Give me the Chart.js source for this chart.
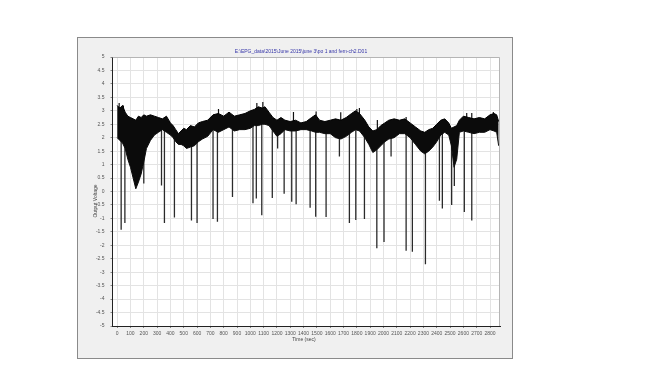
<!DOCTYPE html>
<html>
<head>
<meta charset="utf-8">
<script src="https://cdn.jsdelivr.net/npm/chart.js@4"></script>
<style>
  body { margin: 0; background: #fff; width: 650px; height: 366px; position: relative; }
  #panel { position: absolute; left: 77px; top: 37px; width: 434px; height: 320px;
           background: #f0f0f0; border: 1px solid #8a8a8a; }
  #epg { display: block; }
</style>
</head>
<body>
<div id="panel"><canvas id="epg" width="434" height="320"></canvas></div>
<script>
// recording envelope (dense signal)
const envTime = [0, 20, 40, 60, 80, 100, 120, 140, 160, 180, 200, 220, 250, 280, 310, 340, 370, 400, 420, 440,
  460, 480, 500, 520, 550, 580, 610, 640, 680, 720, 760, 800, 840, 880, 920, 960, 1000, 1030, 1060, 1090,
  1110, 1140, 1170, 1200, 1230, 1260, 1300, 1340, 1380, 1420, 1460, 1490, 1520, 1560, 1600, 1640, 1680, 1720, 1760, 1790,
  1820, 1860, 1890, 1920, 1950, 1980, 2010, 2040, 2080, 2120, 2160, 2200, 2240, 2280, 2310, 2340, 2370, 2400, 2430, 2460,
  2490, 2510, 2530, 2550, 2570, 2600, 2640, 2680, 2720, 2760, 2800, 2830, 2850, 2865];
const envHigh = [3.2, 3.1, 3.2, 2.95, 2.8, 2.75, 2.7, 2.65, 2.8, 2.75, 2.85, 2.8, 2.85, 2.8, 2.75, 2.7, 2.8, 2.55, 2.45, 2.3,
  2.15, 2.25, 2.35, 2.3, 2.45, 2.4, 2.55, 2.6, 2.65, 2.85, 2.9, 2.8, 2.95, 2.8, 2.85, 2.9, 3.0, 3.05, 3.15, 3.1,
  3.15, 2.95, 2.75, 2.65, 2.75, 2.65, 2.6, 2.65, 2.55, 2.6, 2.75, 2.85, 2.65, 2.6, 2.65, 2.7, 2.65, 2.75, 2.9, 3.0,
  2.9, 2.65, 2.4, 2.25, 2.3, 2.45, 2.55, 2.65, 2.7, 2.65, 2.7, 2.55, 2.4, 2.25, 2.2, 2.3, 2.35, 2.5, 2.65, 2.7,
  2.55, 2.35, 2.4, 2.45, 2.65, 2.8, 2.75, 2.7, 2.75, 2.7, 2.85, 2.9, 2.85, 2.6];
const envLow = [2.0, 1.9, 1.8, 1.6, 1.2, 0.9, 0.5, 0.1, 0.35, 0.65, 1.1, 1.6, 1.9, 2.1, 2.2, 2.3, 2.2, 2.1, 2.0, 1.85,
  1.75, 1.75, 1.7, 1.6, 1.65, 1.7, 1.85, 1.95, 2.05, 2.3, 2.2, 2.3, 2.4, 2.25, 2.3, 2.3, 2.35, 2.45, 2.45, 2.5,
  2.5, 2.45, 2.25, 2.05, 2.15, 2.3, 2.25, 2.25, 2.3, 2.3, 2.25, 2.2, 2.2, 2.15, 2.15, 2.0, 1.95, 2.05, 2.2, 2.3,
  2.25, 2.0, 1.75, 1.45, 1.55, 1.7, 1.85, 1.95, 2.0, 2.15, 2.15, 2.0, 1.75, 1.5, 1.4, 1.5, 1.65, 1.85, 2.1, 2.2,
  2.1, 1.7, 0.9, 1.2, 2.2, 2.25, 2.2, 2.15, 2.2, 2.2, 2.3, 2.25, 2.2, 1.7];

// downward spikes: time, level where they leave the trace, lowest voltage
const spikeTime = [30, 58, 200, 333, 355, 430, 558, 600, 720, 753, 866, 1020, 1045, 1086, 1165, 1205, 1254, 1311, 1344,
  1449, 1491, 1569, 1669, 1744, 1792, 1857, 1950, 2004, 2057, 2170, 2217, 2315, 2420, 2442, 2512, 2532, 2607, 2663];
const spikeBase = [2.2, 2.0, 1.5, 2.4, 2.4, 2.2, 2.0, 2.0, 2.5, 2.5, 2.5, 2.6, 2.7, 2.7, 2.5, 2.3, 2.5, 2.4, 2.4,
  2.5, 2.5, 2.4, 2.2, 2.4, 2.5, 2.3, 1.9, 2.1, 2.2, 2.3, 2.1, 1.8, 2.2, 2.3, 2.0, 1.5, 2.4, 2.4];
const spikeMin = [-1.42, -1.17, 0.3, 0.22, -1.17, -0.97, -1.08, -1.17, -1.02, -1.12, -0.2, -0.44, -0.26, -0.88, -0.24, 1.6, -0.08, -0.38, -0.47,
  -0.6, -0.94, -0.95, 1.3, -1.17, -1.06, -1.02, -2.11, -1.88, 1.3, -2.2, -2.24, -2.7, -0.34, -0.63, -0.5, 0.2, -0.76, -1.08];

// short upward peaks on top of the trace
const peakTime = [15, 47, 761, 1049, 1094, 1324, 1494, 1679, 1762, 1800, 1819, 1954, 2170, 2625, 2663, 2825];
const peakBase = [2.8, 2.8, 2.6, 2.8, 2.8, 2.4, 2.5, 2.4, 2.5, 2.6, 2.6, 2.1, 2.4, 2.5, 2.4, 2.6];
const peakMax = [3.29, 3.2, 3.07, 3.29, 3.33, 2.96, 2.97, 2.95, 2.84, 3.07, 3.1, 2.66, 2.77, 2.92, 2.92, 2.96];

const xTicks = [0, 100, 200, 300, 400, 500, 600, 700, 800, 900, 1000, 1100, 1200, 1300, 1400, 1500, 1600, 1700, 1800,
  1900, 2000, 2100, 2200, 2300, 2400, 2500, 2600, 2700, 2800];
const yTicks = [-5, -4.5, -4, -3.5, -3, -2.5, -2, -1.5, -1, -0.5, 0, 0.5, 1, 1.5, 2, 2.5, 3, 3.5, 4, 4.5, 5];

const chartTitle = 'E:\\EPG_data\\2015\\June 2015\\june 3\\po 1 and fem-ch2.D01';
const xTitle = 'Time (sec)';
const yTitle = 'Output Voltage';

const FONT = '"Liberation Sans", Arial, sans-serif';

const highPts = envTime.map((t, i) => ({ x: t, y: envHigh[i] }));
const lowPts = envTime.map((t, i) => ({ x: t, y: envLow[i] }));
const spikePts = [];
spikeTime.forEach((t, i) => {
  spikePts.push({ x: t, y: spikeBase[i] }, { x: t, y: spikeMin[i] }, { x: t, y: null });
});
const peakPts = [];
peakTime.forEach((t, i) => {
  peakPts.push({ x: t, y: peakBase[i] }, { x: t, y: peakMax[i] }, { x: t, y: null });
});

const frame = {
  id: 'frame',
  beforeDraw(chart) {
    const { ctx, chartArea: a } = chart;
    ctx.save();
    ctx.fillStyle = '#fff';
    ctx.fillRect(a.left, a.top, a.right - a.left, a.bottom - a.top);
    ctx.restore();
  },
  afterDraw(chart) {
    const { ctx, chartArea: a } = chart;
    ctx.save();
    ctx.strokeStyle = '#b5b5b5';
    ctx.lineWidth = 1;
    ctx.beginPath();
    ctx.moveTo(a.left, a.top + 0.5);
    ctx.lineTo(a.right - 0.5, a.top + 0.5);
    ctx.lineTo(a.right - 0.5, a.bottom);
    ctx.stroke();
    // title
    ctx.fillStyle = '#3535a8';
    ctx.font = '5px ' + FONT;
    ctx.textAlign = 'center';
    ctx.textBaseline = 'middle';
    ctx.fillText(chartTitle, 223, 14);
    // axis titles
    ctx.fillStyle = '#444';
    ctx.fillText(xTitle, 226, 302);
    ctx.translate(18, 163);
    ctx.rotate(-Math.PI / 2);
    ctx.fillText(yTitle, 0, 0);
    ctx.restore();
  }
};

new Chart(document.getElementById('epg').getContext('2d'), {
  type: 'line',
  data: {
    datasets: [
      { data: highPts, borderColor: '#000', backgroundColor: '#0b0b0b', borderWidth: 1,
        pointRadius: 0, tension: 0, fill: '+1' },
      { data: lowPts, borderColor: '#111', borderWidth: 1, pointRadius: 0, tension: 0, fill: false },
      { data: spikePts, borderColor: '#2a2a2a', borderWidth: 1.3, pointRadius: 0, tension: 0,
        fill: false, spanGaps: false },
      { data: peakPts, borderColor: '#111', borderWidth: 1.2, pointRadius: 0, tension: 0,
        fill: false, spanGaps: false }
    ]
  },
  options: {
    responsive: false,
    animation: false,
    layout: { padding: { left: 0, right: 12, top: 19, bottom: 0 } },
    plugins: { legend: { display: false }, title: { display: false }, tooltip: { enabled: false } },
    scales: {
      x: {
        type: 'linear', min: -35, max: 2875,
        afterBuildTicks: s => { s.ticks = xTicks.map(v => ({ value: v })); },
        afterFit: s => { s.height = 32; },
        grid: { color: '#e3e3e3', lineWidth: 1, tickLength: 2, tickColor: '#888' },
        border: { color: '#222', width: 1 },
        ticks: { font: { size: 5, family: FONT }, color: '#555', padding: 3, maxRotation: 0,
                 autoSkip: false, callback: v => String(v) }
      },
      y: {
        type: 'linear', min: -5, max: 5,
        afterBuildTicks: s => { s.ticks = yTicks.map(v => ({ value: v })); },
        afterFit: s => { s.width = 34.5; },
        grid: { color: '#e3e3e3', lineWidth: 1, tickLength: 2, tickColor: '#888' },
        border: { color: '#222', width: 1 },
        ticks: { font: { size: 5, family: FONT }, color: '#555', padding: 6,
                 autoSkip: false, callback: v => String(v) }
      }
    }
  },
  plugins: [frame]
});
</script>
</body>
</html>
